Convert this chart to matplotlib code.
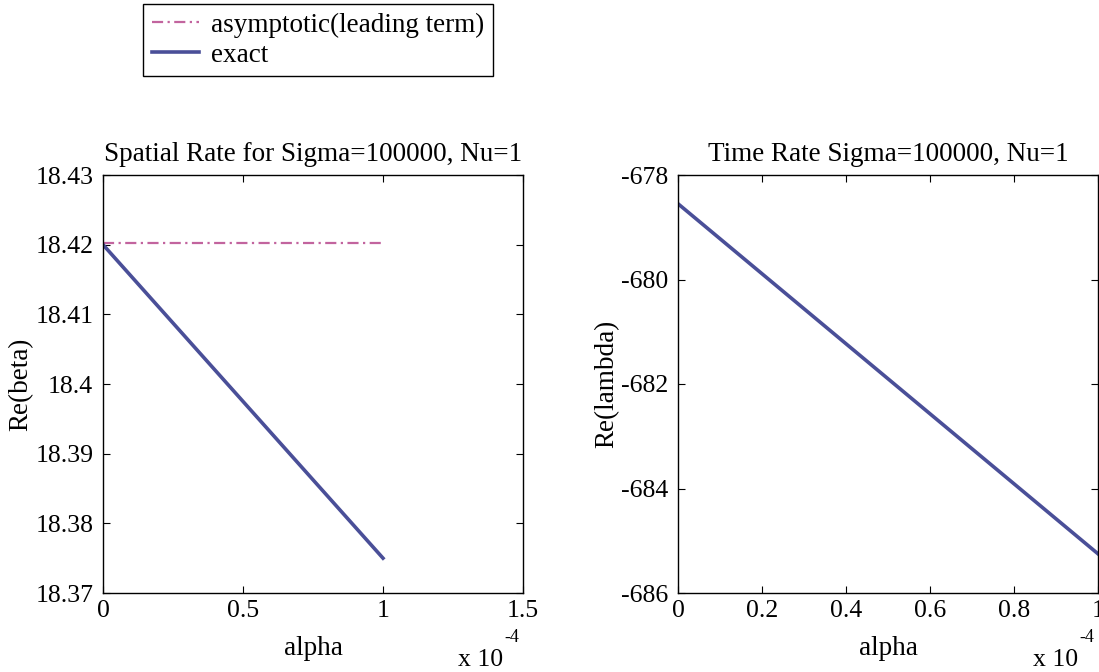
import matplotlib
matplotlib.use("Agg")
import matplotlib.pyplot as plt
from matplotlib.ticker import FuncFormatter, MultipleLocator

plt.rcParams['font.family'] = 'serif'
plt.rcParams['font.serif'] = ['Liberation Serif', 'DejaVu Serif']

# alpha values (end points of the sweep)
alpha = [0.0, 1e-4]
# spatial rate Re(beta)
beta_exact = [18.4200, 18.3750]
beta_asym = [18.4203, 18.4203]
# time rate Re(lambda)
lam_exact = [-678.55, -685.25]

c_exact = '#4a4f98'
c_asym = '#c2649e'
fs_lab = 19.5
fs_tick = 18.5

W, H = 1099, 672
fig = plt.figure(figsize=(W / 100, H / 100), dpi=100)


def px_axes(x0, x1, y0, y1):
    return fig.add_axes([x0 / W, 1 - y1 / H, (x1 - x0) / W, (y1 - y0) / H])


ax1 = px_axes(103, 523, 175, 593)
ax2 = px_axes(678, 1098, 175, 593)

scale = FuncFormatter(lambda v, p: '%g' % round(v / 1e-4, 6))

# left panel
l_asym, = ax1.plot(alpha, beta_asym, color=c_asym, lw=1.6,
                   ls=(0, (5, 2, 1, 2)), label='asymptotic(leading term)')
l_exact, = ax1.plot(alpha, beta_exact, color=c_exact, lw=2.6, label='exact')
ax1.set_xlim(0, 1.5e-4)
ax1.set_ylim(18.37, 18.43)
ax1.xaxis.set_major_locator(MultipleLocator(0.5e-4))
ax1.yaxis.set_major_locator(MultipleLocator(0.01))
ax1.xaxis.set_major_formatter(scale)
ax1.yaxis.set_major_formatter(FuncFormatter(lambda v, p: '%g' % round(v, 2)))
ax1.set_title('Spatial Rate for Sigma=100000, Nu=1', fontsize=fs_lab, pad=10)
ax1.set_xlabel('alpha', fontsize=fs_lab, labelpad=10)
ax1.set_ylabel('Re(beta)', fontsize=fs_lab, labelpad=1)

# right panel
ax2.plot(alpha, lam_exact, color=c_exact, lw=2.6)
ax2.set_xlim(0, 1e-4)
ax2.set_ylim(-686, -678)
ax2.xaxis.set_major_locator(MultipleLocator(0.2e-4))
ax2.yaxis.set_major_locator(MultipleLocator(2))
ax2.xaxis.set_major_formatter(scale)
ax2.yaxis.set_major_formatter(FuncFormatter(lambda v, p: '%d' % round(v)))
ax2.set_title('Time Rate Sigma=100000, Nu=1', fontsize=fs_lab, pad=10)
ax2.set_xlabel('alpha', fontsize=fs_lab, labelpad=10)
ax2.set_ylabel('Re(lambda)', fontsize=fs_lab, labelpad=1)

for ax in (ax1, ax2):
    ax.tick_params(direction='in', top=True, right=True, length=5,
                   labelsize=fs_tick)
    ax.tick_params(axis='x', pad=5)
    ax.tick_params(axis='y', pad=7)
    for s in ax.spines.values():
        s.set_linewidth(1.0)

# exponent notes under the x axes
for xr in (503, 1078):
    fig.text(xr / W, 1 - 666 / H, 'x 10', fontsize=fs_tick,
             ha='right', va='baseline')
    fig.text((xr + 1) / W, 1 - 642 / H, '-4', fontsize=13,
             ha='left', va='baseline')

fig.legend(handles=[l_asym, l_exact], loc='upper left',
           bbox_to_anchor=(143 / W, 1 - 4 / H), fontsize=fs_lab, frameon=True,
           fancybox=False, edgecolor='black', framealpha=1,
           handlelength=1.75, borderpad=0.32, labelspacing=0.18,
           handletextpad=0.45, borderaxespad=0)

fig.savefig('out.png', dpi=100)
